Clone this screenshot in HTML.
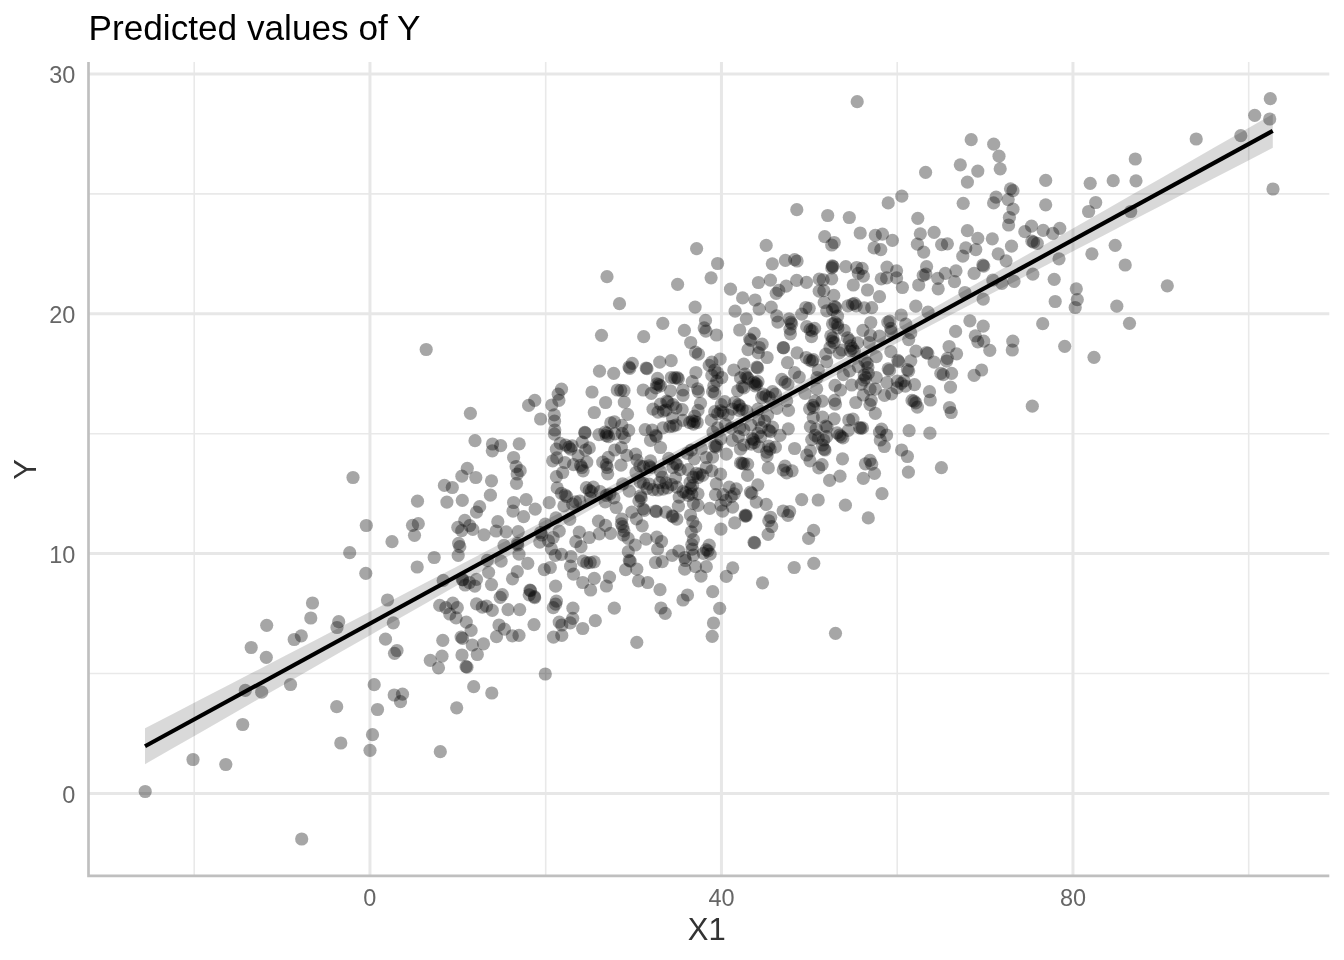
<!DOCTYPE html>
<html><head><meta charset="utf-8"><title>Predicted values of Y</title>
<style>html,body{margin:0;padding:0;background:#fff}svg{display:block;will-change:transform}text{font-family:"Liberation Sans",sans-serif}</style></head><body>
<svg width="1344" height="960" viewBox="0 0 1344 960">
<rect width="1344" height="960" fill="#fff"/>
<g stroke="#e9e9e9" stroke-width="1.6" fill="none">
<path d="M194.20 62.0V875.8"/>
<path d="M545.70 62.0V875.8"/>
<path d="M897.20 62.0V875.8"/>
<path d="M1248.70 62.0V875.8"/>
<path d="M88.5 673.54H1329.3"/>
<path d="M88.5 433.71H1329.3"/>
<path d="M88.5 193.88H1329.3"/>
</g>
<g stroke="#e7e7e7" stroke-width="3" fill="none">
<path d="M369.95 62.0V875.8"/>
<path d="M721.45 62.0V875.8"/>
<path d="M1072.95 62.0V875.8"/>
<path d="M88.5 793.45H1329.3"/>
<path d="M88.5 553.62H1329.3"/>
<path d="M88.5 313.79H1329.3"/>
<path d="M88.5 73.96H1329.3"/>
</g>
<g fill="#000" fill-opacity="0.35">
<circle cx="145.2" cy="791.5" r="6.6"/>
<circle cx="193" cy="759.5" r="6.6"/>
<circle cx="225.8" cy="764.5" r="6.6"/>
<circle cx="242.7" cy="724.5" r="6.6"/>
<circle cx="301.7" cy="839" r="6.6"/>
<circle cx="365.8" cy="573.3" r="6.6"/>
<circle cx="417.2" cy="567" r="6.6"/>
<circle cx="312.5" cy="603" r="6.6"/>
<circle cx="387.5" cy="600" r="6.6"/>
<circle cx="310.8" cy="618" r="6.6"/>
<circle cx="338.7" cy="621.7" r="6.6"/>
<circle cx="337" cy="627.5" r="6.6"/>
<circle cx="266.7" cy="625.3" r="6.6"/>
<circle cx="393.3" cy="622.8" r="6.6"/>
<circle cx="301.3" cy="635.8" r="6.6"/>
<circle cx="294.2" cy="639.5" r="6.6"/>
<circle cx="385.5" cy="639.2" r="6.6"/>
<circle cx="251.2" cy="647.5" r="6.6"/>
<circle cx="397" cy="650.5" r="6.6"/>
<circle cx="394.5" cy="653.3" r="6.6"/>
<circle cx="266.3" cy="657.3" r="6.6"/>
<circle cx="290.5" cy="684.5" r="6.6"/>
<circle cx="374.2" cy="684.7" r="6.6"/>
<circle cx="245.3" cy="690.3" r="6.6"/>
<circle cx="261.7" cy="692.2" r="6.6"/>
<circle cx="394.2" cy="695" r="6.6"/>
<circle cx="402.5" cy="694.2" r="6.6"/>
<circle cx="400.5" cy="701.7" r="6.6"/>
<circle cx="336.7" cy="706.7" r="6.6"/>
<circle cx="377.5" cy="709.5" r="6.6"/>
<circle cx="340.8" cy="743" r="6.6"/>
<circle cx="372.5" cy="734.7" r="6.6"/>
<circle cx="370" cy="750.3" r="6.6"/>
<circle cx="440.3" cy="751.7" r="6.6"/>
<circle cx="442.8" cy="640.3" r="6.6"/>
<circle cx="472.3" cy="645" r="6.6"/>
<circle cx="483.5" cy="643.8" r="6.6"/>
<circle cx="636.8" cy="642.3" r="6.6"/>
<circle cx="442" cy="656.2" r="6.6"/>
<circle cx="430.3" cy="660.3" r="6.6"/>
<circle cx="438.5" cy="667.8" r="6.6"/>
<circle cx="462" cy="655" r="6.6"/>
<circle cx="477.3" cy="654.5" r="6.6"/>
<circle cx="466" cy="666.7" r="6.6"/>
<circle cx="467" cy="667.2" r="6.6"/>
<circle cx="545.3" cy="674" r="6.6"/>
<circle cx="473.7" cy="686.7" r="6.6"/>
<circle cx="491.8" cy="693" r="6.6"/>
<circle cx="456.7" cy="707.8" r="6.6"/>
<circle cx="443.2" cy="580.4" r="6.6"/>
<circle cx="501.1" cy="561.2" r="6.6"/>
<circle cx="487.3" cy="560.4" r="6.6"/>
<circle cx="527.8" cy="563.3" r="6.6"/>
<circle cx="488.6" cy="572.3" r="6.6"/>
<circle cx="517.3" cy="571.7" r="6.6"/>
<circle cx="512.5" cy="578.8" r="6.6"/>
<circle cx="462.3" cy="579.6" r="6.6"/>
<circle cx="476.5" cy="579.3" r="6.6"/>
<circle cx="465.2" cy="585" r="6.6"/>
<circle cx="474.8" cy="586.1" r="6.6"/>
<circle cx="469.4" cy="582.5" r="6.6"/>
<circle cx="491.5" cy="584.6" r="6.6"/>
<circle cx="502.3" cy="594.6" r="6.6"/>
<circle cx="500.2" cy="597.3" r="6.6"/>
<circle cx="530" cy="590.2" r="6.6"/>
<circle cx="529.2" cy="594.8" r="6.6"/>
<circle cx="534.4" cy="596.7" r="6.6"/>
<circle cx="439.7" cy="605.4" r="6.6"/>
<circle cx="452.8" cy="603.2" r="6.6"/>
<circle cx="445.8" cy="607.7" r="6.6"/>
<circle cx="457.3" cy="607.7" r="6.6"/>
<circle cx="449.8" cy="614" r="6.6"/>
<circle cx="456.1" cy="617.9" r="6.6"/>
<circle cx="476.5" cy="603.8" r="6.6"/>
<circle cx="482.3" cy="607.1" r="6.6"/>
<circle cx="486.5" cy="606.2" r="6.6"/>
<circle cx="492.3" cy="610.4" r="6.6"/>
<circle cx="508" cy="609.6" r="6.6"/>
<circle cx="519.7" cy="609.6" r="6.6"/>
<circle cx="466.3" cy="622.1" r="6.6"/>
<circle cx="471.1" cy="630.4" r="6.6"/>
<circle cx="499" cy="625" r="6.6"/>
<circle cx="504.4" cy="629.2" r="6.6"/>
<circle cx="534" cy="624.6" r="6.6"/>
<circle cx="461.1" cy="637.1" r="6.6"/>
<circle cx="462.5" cy="638.3" r="6.6"/>
<circle cx="496.5" cy="636.7" r="6.6"/>
<circle cx="512.3" cy="635.8" r="6.6"/>
<circle cx="519" cy="635.4" r="6.6"/>
<circle cx="463" cy="579.8" r="6.6"/>
<circle cx="530.5" cy="590.7" r="6.6"/>
<circle cx="534.7" cy="597.7" r="6.6"/>
<circle cx="544.3" cy="569.6" r="6.6"/>
<circle cx="550.3" cy="567.5" r="6.6"/>
<circle cx="570.6" cy="566.2" r="6.6"/>
<circle cx="573.5" cy="574.2" r="6.6"/>
<circle cx="583.3" cy="561.2" r="6.6"/>
<circle cx="586.8" cy="562.9" r="6.6"/>
<circle cx="590.2" cy="562.5" r="6.6"/>
<circle cx="594.2" cy="561.8" r="6.6"/>
<circle cx="629.3" cy="560.4" r="6.6"/>
<circle cx="630.2" cy="561.2" r="6.6"/>
<circle cx="625.6" cy="569.6" r="6.6"/>
<circle cx="636.8" cy="569.2" r="6.6"/>
<circle cx="638.5" cy="580.8" r="6.6"/>
<circle cx="647.7" cy="582.5" r="6.6"/>
<circle cx="555.6" cy="586.2" r="6.6"/>
<circle cx="582.7" cy="582.5" r="6.6"/>
<circle cx="594.3" cy="578.3" r="6.6"/>
<circle cx="590.6" cy="590" r="6.6"/>
<circle cx="609.5" cy="577.1" r="6.6"/>
<circle cx="606.4" cy="586" r="6.6"/>
<circle cx="556.4" cy="601.2" r="6.6"/>
<circle cx="555.6" cy="604.2" r="6.6"/>
<circle cx="553.3" cy="607.7" r="6.6"/>
<circle cx="572.9" cy="608.2" r="6.6"/>
<circle cx="614.3" cy="608.2" r="6.6"/>
<circle cx="572.7" cy="618.3" r="6.6"/>
<circle cx="570.2" cy="622.9" r="6.6"/>
<circle cx="559.2" cy="622.1" r="6.6"/>
<circle cx="561.8" cy="625" r="6.6"/>
<circle cx="595.3" cy="620.7" r="6.6"/>
<circle cx="582.7" cy="628.5" r="6.6"/>
<circle cx="553.5" cy="637.1" r="6.6"/>
<circle cx="561.8" cy="635.4" r="6.6"/>
<circle cx="444.4" cy="485.4" r="6.6"/>
<circle cx="452.3" cy="487.5" r="6.6"/>
<circle cx="491.5" cy="480.8" r="6.6"/>
<circle cx="516.5" cy="483.3" r="6.6"/>
<circle cx="446.9" cy="502.1" r="6.6"/>
<circle cx="462.3" cy="500.4" r="6.6"/>
<circle cx="490.4" cy="495.2" r="6.6"/>
<circle cx="513.6" cy="502.5" r="6.6"/>
<circle cx="526.1" cy="499.6" r="6.6"/>
<circle cx="535.2" cy="509.2" r="6.6"/>
<circle cx="479.6" cy="506.7" r="6.6"/>
<circle cx="476.5" cy="512.1" r="6.6"/>
<circle cx="513" cy="511.2" r="6.6"/>
<circle cx="523.6" cy="516.7" r="6.6"/>
<circle cx="464.8" cy="520.4" r="6.6"/>
<circle cx="457.8" cy="527.3" r="6.6"/>
<circle cx="461.7" cy="530.7" r="6.6"/>
<circle cx="469.7" cy="525.7" r="6.6"/>
<circle cx="472.8" cy="529.3" r="6.6"/>
<circle cx="497.8" cy="521.7" r="6.6"/>
<circle cx="496.1" cy="531" r="6.6"/>
<circle cx="506.1" cy="531.8" r="6.6"/>
<circle cx="484" cy="534.8" r="6.6"/>
<circle cx="518.2" cy="531.7" r="6.6"/>
<circle cx="458.6" cy="543.3" r="6.6"/>
<circle cx="459.8" cy="546.7" r="6.6"/>
<circle cx="504" cy="545.4" r="6.6"/>
<circle cx="517.3" cy="543.3" r="6.6"/>
<circle cx="517.8" cy="545" r="6.6"/>
<circle cx="434.2" cy="557.5" r="6.6"/>
<circle cx="458.2" cy="555.4" r="6.6"/>
<circle cx="519" cy="554.2" r="6.6"/>
<circle cx="557.2" cy="487.9" r="6.6"/>
<circle cx="549.2" cy="502.7" r="6.6"/>
<circle cx="561.4" cy="493.3" r="6.6"/>
<circle cx="565.2" cy="495" r="6.6"/>
<circle cx="566.7" cy="496.5" r="6.6"/>
<circle cx="563.9" cy="505.8" r="6.6"/>
<circle cx="572.7" cy="504.2" r="6.6"/>
<circle cx="575.6" cy="501.8" r="6.6"/>
<circle cx="579.8" cy="501" r="6.6"/>
<circle cx="586.4" cy="487.7" r="6.6"/>
<circle cx="593.3" cy="487.1" r="6.6"/>
<circle cx="589.3" cy="490.4" r="6.6"/>
<circle cx="591.4" cy="491.7" r="6.6"/>
<circle cx="590.2" cy="497.9" r="6.6"/>
<circle cx="600.2" cy="491.7" r="6.6"/>
<circle cx="606.4" cy="495.4" r="6.6"/>
<circle cx="609.8" cy="494.2" r="6.6"/>
<circle cx="613.9" cy="497.9" r="6.6"/>
<circle cx="605.2" cy="501.8" r="6.6"/>
<circle cx="616.2" cy="507.5" r="6.6"/>
<circle cx="622.7" cy="483.8" r="6.6"/>
<circle cx="629.3" cy="491.2" r="6.6"/>
<circle cx="640.2" cy="482.1" r="6.6"/>
<circle cx="643.5" cy="483.3" r="6.6"/>
<circle cx="647.2" cy="488.3" r="6.6"/>
<circle cx="640.6" cy="495.8" r="6.6"/>
<circle cx="641.2" cy="497.9" r="6.6"/>
<circle cx="638.9" cy="500.8" r="6.6"/>
<circle cx="643.1" cy="508.8" r="6.6"/>
<circle cx="644.3" cy="510.4" r="6.6"/>
<circle cx="631.8" cy="512.1" r="6.6"/>
<circle cx="636.4" cy="518.8" r="6.6"/>
<circle cx="642.2" cy="525.8" r="6.6"/>
<circle cx="646" cy="539.2" r="6.6"/>
<circle cx="621.8" cy="519.2" r="6.6"/>
<circle cx="621.4" cy="523.8" r="6.6"/>
<circle cx="622.7" cy="526.7" r="6.6"/>
<circle cx="623.9" cy="530.8" r="6.6"/>
<circle cx="623.5" cy="535" r="6.6"/>
<circle cx="628.1" cy="538.3" r="6.6"/>
<circle cx="635.2" cy="545" r="6.6"/>
<circle cx="628.3" cy="551.7" r="6.6"/>
<circle cx="598.5" cy="521.2" r="6.6"/>
<circle cx="605.6" cy="525.4" r="6.6"/>
<circle cx="599.3" cy="533.8" r="6.6"/>
<circle cx="610.6" cy="533.3" r="6.6"/>
<circle cx="579.3" cy="532.1" r="6.6"/>
<circle cx="589.3" cy="537.5" r="6.6"/>
<circle cx="575.8" cy="541.7" r="6.6"/>
<circle cx="581" cy="546.7" r="6.6"/>
<circle cx="556" cy="517.9" r="6.6"/>
<circle cx="569.8" cy="519.3" r="6.6"/>
<circle cx="545.2" cy="524.2" r="6.6"/>
<circle cx="559.2" cy="531.2" r="6.6"/>
<circle cx="553.1" cy="537.5" r="6.6"/>
<circle cx="540.6" cy="532.5" r="6.6"/>
<circle cx="541.8" cy="535" r="6.6"/>
<circle cx="539.8" cy="542.1" r="6.6"/>
<circle cx="548.5" cy="540.8" r="6.6"/>
<circle cx="551.4" cy="548.8" r="6.6"/>
<circle cx="555.2" cy="555.4" r="6.6"/>
<circle cx="561.4" cy="554.3" r="6.6"/>
<circle cx="571" cy="556.7" r="6.6"/>
<circle cx="353" cy="477.5" r="6.6"/>
<circle cx="417.5" cy="501.2" r="6.6"/>
<circle cx="366.3" cy="525.5" r="6.6"/>
<circle cx="412.5" cy="525.3" r="6.6"/>
<circle cx="418.3" cy="523.7" r="6.6"/>
<circle cx="414.5" cy="535.3" r="6.6"/>
<circle cx="392" cy="541.7" r="6.6"/>
<circle cx="349.7" cy="552.7" r="6.6"/>
<circle cx="426.2" cy="349.5" r="6.6"/>
<circle cx="470.4" cy="413.3" r="6.6"/>
<circle cx="528.6" cy="405.4" r="6.6"/>
<circle cx="475" cy="440.7" r="6.6"/>
<circle cx="492.5" cy="444" r="6.6"/>
<circle cx="500.7" cy="445.7" r="6.6"/>
<circle cx="492.3" cy="450.8" r="6.6"/>
<circle cx="519.2" cy="443.8" r="6.6"/>
<circle cx="513.6" cy="457.5" r="6.6"/>
<circle cx="516.1" cy="466.5" r="6.6"/>
<circle cx="520.2" cy="470.7" r="6.6"/>
<circle cx="517.2" cy="474" r="6.6"/>
<circle cx="467.3" cy="468.3" r="6.6"/>
<circle cx="461.9" cy="476.2" r="6.6"/>
<circle cx="475.8" cy="477.5" r="6.6"/>
<circle cx="534.8" cy="400.4" r="6.6"/>
<circle cx="540.6" cy="419" r="6.6"/>
<circle cx="551.8" cy="405" r="6.6"/>
<circle cx="558.9" cy="400.4" r="6.6"/>
<circle cx="554.3" cy="414.8" r="6.6"/>
<circle cx="554.5" cy="421.2" r="6.6"/>
<circle cx="554.8" cy="430" r="6.6"/>
<circle cx="554.5" cy="434.2" r="6.6"/>
<circle cx="594.3" cy="412.5" r="6.6"/>
<circle cx="605.6" cy="402.5" r="6.6"/>
<circle cx="624.3" cy="402.1" r="6.6"/>
<circle cx="627.5" cy="414.3" r="6.6"/>
<circle cx="584.8" cy="432.3" r="6.6"/>
<circle cx="585" cy="432.9" r="6.6"/>
<circle cx="598.9" cy="434.6" r="6.6"/>
<circle cx="605" cy="432.1" r="6.6"/>
<circle cx="607" cy="433.2" r="6.6"/>
<circle cx="606.2" cy="435.7" r="6.6"/>
<circle cx="608.5" cy="436.7" r="6.6"/>
<circle cx="610.8" cy="422.9" r="6.6"/>
<circle cx="614.5" cy="421.8" r="6.6"/>
<circle cx="621.8" cy="425.4" r="6.6"/>
<circle cx="628.7" cy="430.4" r="6.6"/>
<circle cx="622.2" cy="433.3" r="6.6"/>
<circle cx="624.5" cy="437.7" r="6.6"/>
<circle cx="614.8" cy="433.8" r="6.6"/>
<circle cx="645.2" cy="429.6" r="6.6"/>
<circle cx="560.2" cy="443.3" r="6.6"/>
<circle cx="556.4" cy="449.2" r="6.6"/>
<circle cx="565.6" cy="445" r="6.6"/>
<circle cx="568.9" cy="447.1" r="6.6"/>
<circle cx="570.6" cy="449.2" r="6.6"/>
<circle cx="572.2" cy="445.8" r="6.6"/>
<circle cx="556.8" cy="457.9" r="6.6"/>
<circle cx="552.7" cy="460.8" r="6.6"/>
<circle cx="564.8" cy="462.5" r="6.6"/>
<circle cx="582.2" cy="442.1" r="6.6"/>
<circle cx="589.3" cy="447.9" r="6.6"/>
<circle cx="585.6" cy="450" r="6.6"/>
<circle cx="578.1" cy="455.8" r="6.6"/>
<circle cx="586.8" cy="462.1" r="6.6"/>
<circle cx="580.6" cy="465.4" r="6.6"/>
<circle cx="581.8" cy="467.5" r="6.6"/>
<circle cx="583.1" cy="470.8" r="6.6"/>
<circle cx="573.5" cy="464.6" r="6.6"/>
<circle cx="562.7" cy="472.5" r="6.6"/>
<circle cx="556.4" cy="476.7" r="6.6"/>
<circle cx="621.4" cy="447.5" r="6.6"/>
<circle cx="614.8" cy="450" r="6.6"/>
<circle cx="626.8" cy="455.4" r="6.6"/>
<circle cx="635.6" cy="454.2" r="6.6"/>
<circle cx="637" cy="460.2" r="6.6"/>
<circle cx="608.3" cy="457.3" r="6.6"/>
<circle cx="602.7" cy="462.1" r="6.6"/>
<circle cx="606.4" cy="464.6" r="6.6"/>
<circle cx="607.2" cy="467.5" r="6.6"/>
<circle cx="607.7" cy="473.8" r="6.6"/>
<circle cx="621" cy="465.2" r="6.6"/>
<circle cx="639.8" cy="465.8" r="6.6"/>
<circle cx="643.5" cy="466.7" r="6.6"/>
<circle cx="636" cy="472.5" r="6.6"/>
<circle cx="607" cy="276.7" r="6.6"/>
<circle cx="619.5" cy="303.7" r="6.6"/>
<circle cx="601.5" cy="335.3" r="6.6"/>
<circle cx="643.7" cy="336.7" r="6.6"/>
<circle cx="632.3" cy="363.3" r="6.6"/>
<circle cx="629" cy="367" r="6.6"/>
<circle cx="629.8" cy="368.3" r="6.6"/>
<circle cx="646.2" cy="368" r="6.6"/>
<circle cx="647" cy="368.7" r="6.6"/>
<circle cx="599.5" cy="371.2" r="6.6"/>
<circle cx="613.7" cy="373.3" r="6.6"/>
<circle cx="592" cy="392" r="6.6"/>
<circle cx="617.3" cy="390" r="6.6"/>
<circle cx="620.7" cy="390.3" r="6.6"/>
<circle cx="624" cy="390.5" r="6.6"/>
<circle cx="643.2" cy="390" r="6.6"/>
<circle cx="561.5" cy="389.2" r="6.6"/>
<circle cx="558.2" cy="394.2" r="6.6"/>
<circle cx="655.5" cy="562.5" r="6.6"/>
<circle cx="662.2" cy="561.7" r="6.6"/>
<circle cx="685.5" cy="560.5" r="6.6"/>
<circle cx="684.7" cy="569.2" r="6.6"/>
<circle cx="695.5" cy="566.7" r="6.6"/>
<circle cx="706.3" cy="566.7" r="6.6"/>
<circle cx="701" cy="576.2" r="6.6"/>
<circle cx="732.7" cy="567.8" r="6.6"/>
<circle cx="726.3" cy="576.3" r="6.6"/>
<circle cx="794.2" cy="567.5" r="6.6"/>
<circle cx="813.8" cy="563.3" r="6.6"/>
<circle cx="762.5" cy="582.8" r="6.6"/>
<circle cx="660" cy="589.7" r="6.6"/>
<circle cx="687.5" cy="595" r="6.6"/>
<circle cx="683" cy="600" r="6.6"/>
<circle cx="712.7" cy="591.7" r="6.6"/>
<circle cx="719.7" cy="608.3" r="6.6"/>
<circle cx="661" cy="608" r="6.6"/>
<circle cx="665.2" cy="613.3" r="6.6"/>
<circle cx="713.5" cy="623" r="6.6"/>
<circle cx="712.2" cy="636.3" r="6.6"/>
<circle cx="835.5" cy="633.3" r="6.6"/>
<circle cx="649.2" cy="484.2" r="6.6"/>
<circle cx="653" cy="489.6" r="6.6"/>
<circle cx="658" cy="490" r="6.6"/>
<circle cx="663" cy="489.2" r="6.6"/>
<circle cx="667.6" cy="487.9" r="6.6"/>
<circle cx="665.9" cy="482.9" r="6.6"/>
<circle cx="671.8" cy="484.6" r="6.6"/>
<circle cx="659.7" cy="482.5" r="6.6"/>
<circle cx="676.8" cy="487.1" r="6.6"/>
<circle cx="690.1" cy="482.5" r="6.6"/>
<circle cx="692.6" cy="485.4" r="6.6"/>
<circle cx="690.9" cy="488.3" r="6.6"/>
<circle cx="685.9" cy="492.5" r="6.6"/>
<circle cx="688.4" cy="495.4" r="6.6"/>
<circle cx="683" cy="491.7" r="6.6"/>
<circle cx="691.8" cy="494.2" r="6.6"/>
<circle cx="679.2" cy="497.1" r="6.6"/>
<circle cx="678.4" cy="506.2" r="6.6"/>
<circle cx="698" cy="493.8" r="6.6"/>
<circle cx="698" cy="505.4" r="6.6"/>
<circle cx="693.4" cy="503.3" r="6.6"/>
<circle cx="709.7" cy="508.3" r="6.6"/>
<circle cx="716.3" cy="483.8" r="6.6"/>
<circle cx="715.5" cy="494.6" r="6.6"/>
<circle cx="723" cy="494.6" r="6.6"/>
<circle cx="729.2" cy="487.1" r="6.6"/>
<circle cx="736.3" cy="488.8" r="6.6"/>
<circle cx="734.2" cy="493.8" r="6.6"/>
<circle cx="731.3" cy="496.7" r="6.6"/>
<circle cx="725.9" cy="500.4" r="6.6"/>
<circle cx="732.6" cy="507.1" r="6.6"/>
<circle cx="722.6" cy="511.2" r="6.6"/>
<circle cx="720.9" cy="505" r="6.6"/>
<circle cx="750.5" cy="492.1" r="6.6"/>
<circle cx="751.8" cy="493.3" r="6.6"/>
<circle cx="756.3" cy="502.1" r="6.6"/>
<circle cx="757.8" cy="484.8" r="6.6"/>
<circle cx="745.5" cy="515" r="6.6"/>
<circle cx="746.3" cy="515.8" r="6.6"/>
<circle cx="745.1" cy="516.2" r="6.6"/>
<circle cx="734.7" cy="522.9" r="6.6"/>
<circle cx="720.9" cy="529.2" r="6.6"/>
<circle cx="754" cy="542.3" r="6.6"/>
<circle cx="754.7" cy="542.9" r="6.6"/>
<circle cx="655.7" cy="511" r="6.6"/>
<circle cx="656.3" cy="511.7" r="6.6"/>
<circle cx="665.9" cy="512.1" r="6.6"/>
<circle cx="672.2" cy="515.8" r="6.6"/>
<circle cx="673" cy="516.7" r="6.6"/>
<circle cx="676.8" cy="519.2" r="6.6"/>
<circle cx="690.5" cy="515" r="6.6"/>
<circle cx="692.8" cy="521.7" r="6.6"/>
<circle cx="695.7" cy="526.5" r="6.6"/>
<circle cx="691.3" cy="531.8" r="6.6"/>
<circle cx="693.4" cy="539.6" r="6.6"/>
<circle cx="691.8" cy="544.6" r="6.6"/>
<circle cx="692.2" cy="549.2" r="6.6"/>
<circle cx="709.2" cy="545.2" r="6.6"/>
<circle cx="706.3" cy="549.6" r="6.6"/>
<circle cx="708" cy="550.8" r="6.6"/>
<circle cx="703.4" cy="553.3" r="6.6"/>
<circle cx="710.1" cy="554.2" r="6.6"/>
<circle cx="656.8" cy="537.1" r="6.6"/>
<circle cx="661.5" cy="541.5" r="6.6"/>
<circle cx="657.6" cy="549" r="6.6"/>
<circle cx="678.8" cy="551" r="6.6"/>
<circle cx="672.2" cy="555.4" r="6.6"/>
<circle cx="684.7" cy="557.5" r="6.6"/>
<circle cx="693.4" cy="555" r="6.6"/>
<circle cx="766.2" cy="504.3" r="6.6"/>
<circle cx="829.6" cy="480.4" r="6.6"/>
<circle cx="801.7" cy="499.6" r="6.6"/>
<circle cx="818.2" cy="500" r="6.6"/>
<circle cx="845.4" cy="505.2" r="6.6"/>
<circle cx="868.3" cy="517.9" r="6.6"/>
<circle cx="783.2" cy="511" r="6.6"/>
<circle cx="789.6" cy="511.5" r="6.6"/>
<circle cx="787.9" cy="515.4" r="6.6"/>
<circle cx="770.7" cy="517.3" r="6.6"/>
<circle cx="768.8" cy="520.8" r="6.6"/>
<circle cx="771.7" cy="526.5" r="6.6"/>
<circle cx="768.1" cy="534.3" r="6.6"/>
<circle cx="813.6" cy="530.4" r="6.6"/>
<circle cx="808.6" cy="538.3" r="6.6"/>
<circle cx="653" cy="409.2" r="6.6"/>
<circle cx="658" cy="412.1" r="6.6"/>
<circle cx="663.4" cy="411.2" r="6.6"/>
<circle cx="665.9" cy="410" r="6.6"/>
<circle cx="666.8" cy="401.2" r="6.6"/>
<circle cx="668" cy="402.1" r="6.6"/>
<circle cx="673" cy="404.6" r="6.6"/>
<circle cx="675.9" cy="407.9" r="6.6"/>
<circle cx="682.2" cy="409.6" r="6.6"/>
<circle cx="660.5" cy="404.2" r="6.6"/>
<circle cx="663" cy="427.9" r="6.6"/>
<circle cx="669.7" cy="426.7" r="6.6"/>
<circle cx="673" cy="426.2" r="6.6"/>
<circle cx="675.9" cy="425" r="6.6"/>
<circle cx="683" cy="420.4" r="6.6"/>
<circle cx="672.6" cy="417.9" r="6.6"/>
<circle cx="655.7" cy="435.4" r="6.6"/>
<circle cx="656.3" cy="436.5" r="6.6"/>
<circle cx="650.5" cy="440.4" r="6.6"/>
<circle cx="660.5" cy="447.5" r="6.6"/>
<circle cx="652.2" cy="430" r="6.6"/>
<circle cx="700.5" cy="403.3" r="6.6"/>
<circle cx="698" cy="410.4" r="6.6"/>
<circle cx="694.7" cy="416.2" r="6.6"/>
<circle cx="692.2" cy="420.8" r="6.6"/>
<circle cx="694.7" cy="421.7" r="6.6"/>
<circle cx="697.2" cy="422.5" r="6.6"/>
<circle cx="693.4" cy="424.2" r="6.6"/>
<circle cx="689.7" cy="422.5" r="6.6"/>
<circle cx="711.3" cy="420" r="6.6"/>
<circle cx="714.7" cy="411.7" r="6.6"/>
<circle cx="717.6" cy="413.8" r="6.6"/>
<circle cx="720.5" cy="410.8" r="6.6"/>
<circle cx="723" cy="412.5" r="6.6"/>
<circle cx="721.3" cy="404.6" r="6.6"/>
<circle cx="724.7" cy="401.7" r="6.6"/>
<circle cx="728" cy="415" r="6.6"/>
<circle cx="734.7" cy="402.5" r="6.6"/>
<circle cx="738.4" cy="404.6" r="6.6"/>
<circle cx="739.7" cy="405.8" r="6.6"/>
<circle cx="739.2" cy="410.4" r="6.6"/>
<circle cx="742.2" cy="409.2" r="6.6"/>
<circle cx="746.8" cy="411.2" r="6.6"/>
<circle cx="732.2" cy="409.2" r="6.6"/>
<circle cx="713" cy="432.1" r="6.6"/>
<circle cx="717.6" cy="427.9" r="6.6"/>
<circle cx="725.5" cy="424.6" r="6.6"/>
<circle cx="731.3" cy="427.9" r="6.6"/>
<circle cx="739.7" cy="427.9" r="6.6"/>
<circle cx="743.8" cy="429.6" r="6.6"/>
<circle cx="750.9" cy="425" r="6.6"/>
<circle cx="758.8" cy="420" r="6.6"/>
<circle cx="758" cy="409.2" r="6.6"/>
<circle cx="720.9" cy="438.8" r="6.6"/>
<circle cx="714.7" cy="446.2" r="6.6"/>
<circle cx="715.9" cy="447.1" r="6.6"/>
<circle cx="716.8" cy="445.4" r="6.6"/>
<circle cx="732.2" cy="440.4" r="6.6"/>
<circle cx="738.4" cy="436.7" r="6.6"/>
<circle cx="740.5" cy="449.2" r="6.6"/>
<circle cx="743.8" cy="445" r="6.6"/>
<circle cx="752.2" cy="438.3" r="6.6"/>
<circle cx="753.4" cy="439.6" r="6.6"/>
<circle cx="751.3" cy="444.2" r="6.6"/>
<circle cx="754.2" cy="442.5" r="6.6"/>
<circle cx="758" cy="433.3" r="6.6"/>
<circle cx="758.8" cy="446.7" r="6.6"/>
<circle cx="726.3" cy="454.2" r="6.6"/>
<circle cx="740.5" cy="462.9" r="6.6"/>
<circle cx="742.2" cy="463.3" r="6.6"/>
<circle cx="743.8" cy="463.8" r="6.6"/>
<circle cx="747.6" cy="464.2" r="6.6"/>
<circle cx="747.6" cy="475.4" r="6.6"/>
<circle cx="701.3" cy="448.3" r="6.6"/>
<circle cx="694.2" cy="458.8" r="6.6"/>
<circle cx="691.3" cy="450" r="6.6"/>
<circle cx="706.3" cy="457.5" r="6.6"/>
<circle cx="712.6" cy="457.1" r="6.6"/>
<circle cx="687.2" cy="453.3" r="6.6"/>
<circle cx="706.3" cy="467.5" r="6.6"/>
<circle cx="711.8" cy="470.8" r="6.6"/>
<circle cx="720.5" cy="474.2" r="6.6"/>
<circle cx="696.3" cy="473.3" r="6.6"/>
<circle cx="699.7" cy="474.2" r="6.6"/>
<circle cx="702.6" cy="475.4" r="6.6"/>
<circle cx="693" cy="477.1" r="6.6"/>
<circle cx="698" cy="477.5" r="6.6"/>
<circle cx="650.5" cy="460.8" r="6.6"/>
<circle cx="649.2" cy="465.8" r="6.6"/>
<circle cx="650.5" cy="467.5" r="6.6"/>
<circle cx="675.5" cy="463.3" r="6.6"/>
<circle cx="677.2" cy="465" r="6.6"/>
<circle cx="673" cy="467.5" r="6.6"/>
<circle cx="680.1" cy="469.6" r="6.6"/>
<circle cx="660.5" cy="471.7" r="6.6"/>
<circle cx="662.2" cy="477.1" r="6.6"/>
<circle cx="688" cy="469.6" r="6.6"/>
<circle cx="675.5" cy="477.9" r="6.6"/>
<circle cx="668.8" cy="458.3" r="6.6"/>
<circle cx="776.7" cy="408.3" r="6.6"/>
<circle cx="788.5" cy="410.4" r="6.6"/>
<circle cx="786.7" cy="400.8" r="6.6"/>
<circle cx="767.5" cy="415.4" r="6.6"/>
<circle cx="764.6" cy="421.2" r="6.6"/>
<circle cx="772.5" cy="427.1" r="6.6"/>
<circle cx="768.8" cy="430.4" r="6.6"/>
<circle cx="770.4" cy="431.7" r="6.6"/>
<circle cx="780" cy="435.4" r="6.6"/>
<circle cx="788.3" cy="428.8" r="6.6"/>
<circle cx="761.2" cy="427.5" r="6.6"/>
<circle cx="760.8" cy="436.7" r="6.6"/>
<circle cx="775.4" cy="447.1" r="6.6"/>
<circle cx="768.8" cy="446.2" r="6.6"/>
<circle cx="770" cy="449.2" r="6.6"/>
<circle cx="766.7" cy="452.1" r="6.6"/>
<circle cx="767.1" cy="455.8" r="6.6"/>
<circle cx="768.3" cy="467.9" r="6.6"/>
<circle cx="794.6" cy="448.5" r="6.6"/>
<circle cx="785" cy="466.2" r="6.6"/>
<circle cx="783.3" cy="470" r="6.6"/>
<circle cx="786.7" cy="472.9" r="6.6"/>
<circle cx="792.1" cy="470.8" r="6.6"/>
<circle cx="809.6" cy="408.8" r="6.6"/>
<circle cx="812.9" cy="405.4" r="6.6"/>
<circle cx="813.8" cy="407.5" r="6.6"/>
<circle cx="815" cy="401.2" r="6.6"/>
<circle cx="822.1" cy="401.2" r="6.6"/>
<circle cx="834.6" cy="400.4" r="6.6"/>
<circle cx="835.4" cy="404.2" r="6.6"/>
<circle cx="855.8" cy="402.5" r="6.6"/>
<circle cx="871.2" cy="400.4" r="6.6"/>
<circle cx="870" cy="404.6" r="6.6"/>
<circle cx="813.3" cy="417.5" r="6.6"/>
<circle cx="822.5" cy="417.1" r="6.6"/>
<circle cx="834.2" cy="418.8" r="6.6"/>
<circle cx="810.4" cy="426.7" r="6.6"/>
<circle cx="816.2" cy="429.2" r="6.6"/>
<circle cx="825.8" cy="426.2" r="6.6"/>
<circle cx="827.1" cy="427.1" r="6.6"/>
<circle cx="815" cy="435.4" r="6.6"/>
<circle cx="811.7" cy="439.6" r="6.6"/>
<circle cx="818.3" cy="437.9" r="6.6"/>
<circle cx="823.8" cy="440" r="6.6"/>
<circle cx="826.7" cy="436.7" r="6.6"/>
<circle cx="822.5" cy="445" r="6.6"/>
<circle cx="824.2" cy="449.2" r="6.6"/>
<circle cx="825" cy="450" r="6.6"/>
<circle cx="839.6" cy="435" r="6.6"/>
<circle cx="841.2" cy="436.7" r="6.6"/>
<circle cx="842.9" cy="437.9" r="6.6"/>
<circle cx="837.1" cy="432.9" r="6.6"/>
<circle cx="848.3" cy="430.4" r="6.6"/>
<circle cx="848.8" cy="420" r="6.6"/>
<circle cx="852.9" cy="419.2" r="6.6"/>
<circle cx="859.6" cy="427.5" r="6.6"/>
<circle cx="860.8" cy="428.3" r="6.6"/>
<circle cx="862.5" cy="427.9" r="6.6"/>
<circle cx="810.4" cy="450.8" r="6.6"/>
<circle cx="806.7" cy="455" r="6.6"/>
<circle cx="810" cy="460.8" r="6.6"/>
<circle cx="822.1" cy="464.6" r="6.6"/>
<circle cx="818.8" cy="467.9" r="6.6"/>
<circle cx="842.5" cy="458.8" r="6.6"/>
<circle cx="865.4" cy="463.8" r="6.6"/>
<circle cx="870" cy="460.4" r="6.6"/>
<circle cx="871.7" cy="464.2" r="6.6"/>
<circle cx="840" cy="476.2" r="6.6"/>
<circle cx="863.3" cy="478.3" r="6.6"/>
<circle cx="662.8" cy="323.3" r="6.6"/>
<circle cx="684.4" cy="330.4" r="6.6"/>
<circle cx="705.5" cy="320.4" r="6.6"/>
<circle cx="704.2" cy="327.9" r="6.6"/>
<circle cx="705.9" cy="331.2" r="6.6"/>
<circle cx="716.5" cy="335" r="6.6"/>
<circle cx="739.7" cy="330" r="6.6"/>
<circle cx="754.2" cy="333.3" r="6.6"/>
<circle cx="749.7" cy="339.2" r="6.6"/>
<circle cx="750.7" cy="340.4" r="6.6"/>
<circle cx="748" cy="349.6" r="6.6"/>
<circle cx="759.2" cy="347.5" r="6.6"/>
<circle cx="758.4" cy="352.9" r="6.6"/>
<circle cx="690.7" cy="342.5" r="6.6"/>
<circle cx="695.5" cy="352.1" r="6.6"/>
<circle cx="698.4" cy="354.2" r="6.6"/>
<circle cx="659.7" cy="362.1" r="6.6"/>
<circle cx="671.2" cy="360.7" r="6.6"/>
<circle cx="720.1" cy="359.2" r="6.6"/>
<circle cx="711.8" cy="362.1" r="6.6"/>
<circle cx="709.2" cy="365.4" r="6.6"/>
<circle cx="714.7" cy="370" r="6.6"/>
<circle cx="717.6" cy="372.9" r="6.6"/>
<circle cx="721.8" cy="377.5" r="6.6"/>
<circle cx="711.8" cy="375.4" r="6.6"/>
<circle cx="716.8" cy="381.2" r="6.6"/>
<circle cx="713.8" cy="385.8" r="6.6"/>
<circle cx="712.6" cy="391.7" r="6.6"/>
<circle cx="714.7" cy="393.3" r="6.6"/>
<circle cx="695.9" cy="372.5" r="6.6"/>
<circle cx="692.2" cy="381.7" r="6.6"/>
<circle cx="697.6" cy="388.8" r="6.6"/>
<circle cx="698.4" cy="391.7" r="6.6"/>
<circle cx="671.3" cy="377.5" r="6.6"/>
<circle cx="674.7" cy="377.9" r="6.6"/>
<circle cx="677.2" cy="377.5" r="6.6"/>
<circle cx="678.4" cy="378.8" r="6.6"/>
<circle cx="657.6" cy="378.3" r="6.6"/>
<circle cx="656.8" cy="383.8" r="6.6"/>
<circle cx="658.8" cy="384.6" r="6.6"/>
<circle cx="660.5" cy="385.8" r="6.6"/>
<circle cx="655.9" cy="387.9" r="6.6"/>
<circle cx="670.5" cy="390.8" r="6.6"/>
<circle cx="683" cy="390" r="6.6"/>
<circle cx="683" cy="395.4" r="6.6"/>
<circle cx="651.3" cy="393.3" r="6.6"/>
<circle cx="743.8" cy="364.2" r="6.6"/>
<circle cx="733.8" cy="370" r="6.6"/>
<circle cx="745.1" cy="374.2" r="6.6"/>
<circle cx="746.8" cy="377.1" r="6.6"/>
<circle cx="748" cy="378.3" r="6.6"/>
<circle cx="740.5" cy="377.9" r="6.6"/>
<circle cx="756.8" cy="367.1" r="6.6"/>
<circle cx="757.6" cy="367.9" r="6.6"/>
<circle cx="753.8" cy="382.1" r="6.6"/>
<circle cx="755.5" cy="383.3" r="6.6"/>
<circle cx="756.8" cy="384.6" r="6.6"/>
<circle cx="755.1" cy="385.8" r="6.6"/>
<circle cx="758" cy="381.7" r="6.6"/>
<circle cx="742.2" cy="386.7" r="6.6"/>
<circle cx="743.8" cy="387.9" r="6.6"/>
<circle cx="737.6" cy="390.8" r="6.6"/>
<circle cx="777.9" cy="322.1" r="6.6"/>
<circle cx="790.8" cy="322.1" r="6.6"/>
<circle cx="791.7" cy="323.8" r="6.6"/>
<circle cx="790" cy="329.2" r="6.6"/>
<circle cx="790.4" cy="333.8" r="6.6"/>
<circle cx="806.7" cy="326.7" r="6.6"/>
<circle cx="810" cy="329.6" r="6.6"/>
<circle cx="812.1" cy="330.8" r="6.6"/>
<circle cx="814.6" cy="328.3" r="6.6"/>
<circle cx="811.5" cy="336.7" r="6.6"/>
<circle cx="762.1" cy="344.2" r="6.6"/>
<circle cx="767.1" cy="357.5" r="6.6"/>
<circle cx="783.2" cy="347.5" r="6.6"/>
<circle cx="783.6" cy="347.9" r="6.6"/>
<circle cx="797.1" cy="352.9" r="6.6"/>
<circle cx="787.5" cy="362.7" r="6.6"/>
<circle cx="794.6" cy="372.7" r="6.6"/>
<circle cx="799.2" cy="377.1" r="6.6"/>
<circle cx="781.8" cy="379.3" r="6.6"/>
<circle cx="785" cy="382.1" r="6.6"/>
<circle cx="787.9" cy="384.2" r="6.6"/>
<circle cx="806.2" cy="357.5" r="6.6"/>
<circle cx="809.6" cy="360" r="6.6"/>
<circle cx="812.1" cy="361.2" r="6.6"/>
<circle cx="813.3" cy="359.6" r="6.6"/>
<circle cx="825.8" cy="354.2" r="6.6"/>
<circle cx="826.7" cy="361.7" r="6.6"/>
<circle cx="818.3" cy="370" r="6.6"/>
<circle cx="817.1" cy="377.5" r="6.6"/>
<circle cx="832.5" cy="323.8" r="6.6"/>
<circle cx="835" cy="322.5" r="6.6"/>
<circle cx="837.5" cy="324.6" r="6.6"/>
<circle cx="837.9" cy="327.9" r="6.6"/>
<circle cx="830.8" cy="335.8" r="6.6"/>
<circle cx="832.9" cy="337.9" r="6.6"/>
<circle cx="832.1" cy="341.2" r="6.6"/>
<circle cx="834.2" cy="342.5" r="6.6"/>
<circle cx="844.2" cy="330.4" r="6.6"/>
<circle cx="847.5" cy="337.9" r="6.6"/>
<circle cx="849.6" cy="340.4" r="6.6"/>
<circle cx="850.8" cy="345.8" r="6.6"/>
<circle cx="852.5" cy="348.3" r="6.6"/>
<circle cx="850.4" cy="350.8" r="6.6"/>
<circle cx="854.2" cy="351.2" r="6.6"/>
<circle cx="839.2" cy="352.9" r="6.6"/>
<circle cx="842.1" cy="350" r="6.6"/>
<circle cx="857.5" cy="342.9" r="6.6"/>
<circle cx="862.9" cy="330.4" r="6.6"/>
<circle cx="870.8" cy="322.5" r="6.6"/>
<circle cx="870.4" cy="335.4" r="6.6"/>
<circle cx="869.2" cy="342.5" r="6.6"/>
<circle cx="830" cy="347.5" r="6.6"/>
<circle cx="849.6" cy="370.8" r="6.6"/>
<circle cx="843.3" cy="374.6" r="6.6"/>
<circle cx="851.7" cy="385" r="6.6"/>
<circle cx="835" cy="385.4" r="6.6"/>
<circle cx="840.4" cy="390" r="6.6"/>
<circle cx="865" cy="361.2" r="6.6"/>
<circle cx="867.1" cy="363.3" r="6.6"/>
<circle cx="867.9" cy="367.5" r="6.6"/>
<circle cx="864.2" cy="375" r="6.6"/>
<circle cx="865.8" cy="377.5" r="6.6"/>
<circle cx="863.8" cy="380" r="6.6"/>
<circle cx="868.3" cy="373.3" r="6.6"/>
<circle cx="861.2" cy="384.2" r="6.6"/>
<circle cx="863.3" cy="395" r="6.6"/>
<circle cx="870" cy="389.2" r="6.6"/>
<circle cx="858.3" cy="366.7" r="6.6"/>
<circle cx="816.7" cy="388.8" r="6.6"/>
<circle cx="805" cy="393.3" r="6.6"/>
<circle cx="763.3" cy="394.2" r="6.6"/>
<circle cx="765.8" cy="395.8" r="6.6"/>
<circle cx="769.2" cy="397.5" r="6.6"/>
<circle cx="772.5" cy="391.7" r="6.6"/>
<circle cx="775.4" cy="394.2" r="6.6"/>
<circle cx="761.7" cy="397.5" r="6.6"/>
<circle cx="696.6" cy="248.6" r="6.6"/>
<circle cx="717.6" cy="263.5" r="6.6"/>
<circle cx="711.1" cy="277.8" r="6.6"/>
<circle cx="677.6" cy="284.3" r="6.6"/>
<circle cx="730.5" cy="289.2" r="6.6"/>
<circle cx="742.6" cy="297.9" r="6.6"/>
<circle cx="755.1" cy="300" r="6.6"/>
<circle cx="758.4" cy="282.5" r="6.6"/>
<circle cx="695.1" cy="307.1" r="6.6"/>
<circle cx="735.1" cy="311.2" r="6.6"/>
<circle cx="759.2" cy="309.2" r="6.6"/>
<circle cx="746.3" cy="318.8" r="6.6"/>
<circle cx="766.2" cy="245.4" r="6.6"/>
<circle cx="772.3" cy="263.8" r="6.6"/>
<circle cx="785.4" cy="260.4" r="6.6"/>
<circle cx="794.6" cy="259.6" r="6.6"/>
<circle cx="797.1" cy="261" r="6.6"/>
<circle cx="831.7" cy="245" r="6.6"/>
<circle cx="834.2" cy="242.5" r="6.6"/>
<circle cx="832.3" cy="265.8" r="6.6"/>
<circle cx="832.9" cy="266.5" r="6.6"/>
<circle cx="831.8" cy="267.9" r="6.6"/>
<circle cx="845.8" cy="266.7" r="6.6"/>
<circle cx="856.7" cy="267.5" r="6.6"/>
<circle cx="862.1" cy="268.3" r="6.6"/>
<circle cx="858.3" cy="273.3" r="6.6"/>
<circle cx="863.3" cy="276.2" r="6.6"/>
<circle cx="770.4" cy="280.2" r="6.6"/>
<circle cx="796.7" cy="280.4" r="6.6"/>
<circle cx="806.5" cy="282.3" r="6.6"/>
<circle cx="786.2" cy="286.2" r="6.6"/>
<circle cx="778.8" cy="290.4" r="6.6"/>
<circle cx="776.2" cy="293.3" r="6.6"/>
<circle cx="819.3" cy="279.2" r="6.6"/>
<circle cx="823.2" cy="279.8" r="6.6"/>
<circle cx="831.7" cy="278.8" r="6.6"/>
<circle cx="819.2" cy="291.2" r="6.6"/>
<circle cx="823.8" cy="290.7" r="6.6"/>
<circle cx="833.8" cy="295.4" r="6.6"/>
<circle cx="853.3" cy="285" r="6.6"/>
<circle cx="867.5" cy="290" r="6.6"/>
<circle cx="771.2" cy="307.1" r="6.6"/>
<circle cx="805.8" cy="307.5" r="6.6"/>
<circle cx="809.2" cy="308.3" r="6.6"/>
<circle cx="801.7" cy="314.2" r="6.6"/>
<circle cx="824.2" cy="302.5" r="6.6"/>
<circle cx="826.7" cy="310.8" r="6.6"/>
<circle cx="834.6" cy="306.7" r="6.6"/>
<circle cx="835.8" cy="307.5" r="6.6"/>
<circle cx="832.5" cy="309.6" r="6.6"/>
<circle cx="837.5" cy="316.2" r="6.6"/>
<circle cx="847.9" cy="305.8" r="6.6"/>
<circle cx="852.5" cy="304.2" r="6.6"/>
<circle cx="854.6" cy="303.3" r="6.6"/>
<circle cx="856.2" cy="305.8" r="6.6"/>
<circle cx="864.2" cy="307.9" r="6.6"/>
<circle cx="871.7" cy="307.7" r="6.6"/>
<circle cx="776.7" cy="315.8" r="6.6"/>
<circle cx="789.2" cy="318.8" r="6.6"/>
<circle cx="857.2" cy="101.7" r="6.6"/>
<circle cx="796.8" cy="209.7" r="6.6"/>
<circle cx="827.7" cy="215.5" r="6.6"/>
<circle cx="849.3" cy="217.5" r="6.6"/>
<circle cx="860.2" cy="233" r="6.6"/>
<circle cx="824.7" cy="236.7" r="6.6"/>
<circle cx="882" cy="493.7" r="6.6"/>
<circle cx="875.3" cy="413.3" r="6.6"/>
<circle cx="881.6" cy="429.2" r="6.6"/>
<circle cx="879.5" cy="432.1" r="6.6"/>
<circle cx="886.6" cy="435" r="6.6"/>
<circle cx="880.3" cy="440" r="6.6"/>
<circle cx="884.3" cy="446.5" r="6.6"/>
<circle cx="909.1" cy="430.7" r="6.6"/>
<circle cx="929.9" cy="433.2" r="6.6"/>
<circle cx="901.6" cy="450" r="6.6"/>
<circle cx="907.4" cy="456.5" r="6.6"/>
<circle cx="908.4" cy="472.1" r="6.6"/>
<circle cx="941.4" cy="467.7" r="6.6"/>
<circle cx="949.5" cy="407.5" r="6.6"/>
<circle cx="951.2" cy="412.5" r="6.6"/>
<circle cx="917.4" cy="407.1" r="6.6"/>
<circle cx="915.8" cy="402.9" r="6.6"/>
<circle cx="914.1" cy="401.2" r="6.6"/>
<circle cx="912" cy="400.4" r="6.6"/>
<circle cx="930.3" cy="400" r="6.6"/>
<circle cx="874.5" cy="473.3" r="6.6"/>
<circle cx="887.8" cy="322.1" r="6.6"/>
<circle cx="889.9" cy="321.2" r="6.6"/>
<circle cx="890.8" cy="328.3" r="6.6"/>
<circle cx="891.2" cy="331.7" r="6.6"/>
<circle cx="879.5" cy="336.2" r="6.6"/>
<circle cx="905.8" cy="324.2" r="6.6"/>
<circle cx="910.8" cy="332.9" r="6.6"/>
<circle cx="908.7" cy="339.6" r="6.6"/>
<circle cx="890.8" cy="351.7" r="6.6"/>
<circle cx="876.2" cy="356.7" r="6.6"/>
<circle cx="897.8" cy="360.4" r="6.6"/>
<circle cx="898.7" cy="361.7" r="6.6"/>
<circle cx="910.8" cy="360.8" r="6.6"/>
<circle cx="888.2" cy="368.8" r="6.6"/>
<circle cx="889.5" cy="370.4" r="6.6"/>
<circle cx="907.4" cy="369.6" r="6.6"/>
<circle cx="908.7" cy="370.8" r="6.6"/>
<circle cx="876.2" cy="377.5" r="6.6"/>
<circle cx="887" cy="382.5" r="6.6"/>
<circle cx="897.4" cy="381.2" r="6.6"/>
<circle cx="901.2" cy="383.3" r="6.6"/>
<circle cx="904.1" cy="380.8" r="6.6"/>
<circle cx="905.3" cy="386.2" r="6.6"/>
<circle cx="914.5" cy="384.6" r="6.6"/>
<circle cx="897" cy="387.9" r="6.6"/>
<circle cx="916" cy="351.2" r="6.6"/>
<circle cx="926.6" cy="352.5" r="6.6"/>
<circle cx="927.8" cy="353.3" r="6.6"/>
<circle cx="934.1" cy="362.1" r="6.6"/>
<circle cx="949.1" cy="346.5" r="6.6"/>
<circle cx="956.6" cy="353.8" r="6.6"/>
<circle cx="947.4" cy="358.3" r="6.6"/>
<circle cx="946.6" cy="361.2" r="6.6"/>
<circle cx="955.6" cy="331.4" r="6.6"/>
<circle cx="969.9" cy="320.8" r="6.6"/>
<circle cx="975.3" cy="335.8" r="6.6"/>
<circle cx="977.8" cy="341.8" r="6.6"/>
<circle cx="983.7" cy="341.2" r="6.6"/>
<circle cx="983.2" cy="326.2" r="6.6"/>
<circle cx="940.8" cy="373.3" r="6.6"/>
<circle cx="943.2" cy="374.6" r="6.6"/>
<circle cx="951.6" cy="373.3" r="6.6"/>
<circle cx="950.5" cy="387.1" r="6.6"/>
<circle cx="974.1" cy="375.4" r="6.6"/>
<circle cx="981.6" cy="370" r="6.6"/>
<circle cx="929.5" cy="391.7" r="6.6"/>
<circle cx="875.3" cy="389.2" r="6.6"/>
<circle cx="884.5" cy="395.4" r="6.6"/>
<circle cx="891.6" cy="393.8" r="6.6"/>
<circle cx="874.1" cy="247.9" r="6.6"/>
<circle cx="880.8" cy="249.6" r="6.6"/>
<circle cx="892.4" cy="240.4" r="6.6"/>
<circle cx="917.4" cy="244.2" r="6.6"/>
<circle cx="923.7" cy="252.1" r="6.6"/>
<circle cx="941.6" cy="244.6" r="6.6"/>
<circle cx="947.4" cy="243.8" r="6.6"/>
<circle cx="965.8" cy="247.9" r="6.6"/>
<circle cx="975.8" cy="249.6" r="6.6"/>
<circle cx="962.8" cy="256.2" r="6.6"/>
<circle cx="926.6" cy="266.7" r="6.6"/>
<circle cx="925.8" cy="274.2" r="6.6"/>
<circle cx="923.2" cy="275.4" r="6.6"/>
<circle cx="918.7" cy="285" r="6.6"/>
<circle cx="887" cy="267.1" r="6.6"/>
<circle cx="896.6" cy="270.8" r="6.6"/>
<circle cx="881.2" cy="278.8" r="6.6"/>
<circle cx="886.6" cy="277.9" r="6.6"/>
<circle cx="896.6" cy="277.9" r="6.6"/>
<circle cx="902.4" cy="287.5" r="6.6"/>
<circle cx="945.3" cy="273.3" r="6.6"/>
<circle cx="956" cy="270.8" r="6.6"/>
<circle cx="937.8" cy="278.3" r="6.6"/>
<circle cx="954.5" cy="281.7" r="6.6"/>
<circle cx="938.2" cy="288.8" r="6.6"/>
<circle cx="974.1" cy="273.3" r="6.6"/>
<circle cx="982.8" cy="265" r="6.6"/>
<circle cx="983.7" cy="266.2" r="6.6"/>
<circle cx="964.9" cy="292.5" r="6.6"/>
<circle cx="983.2" cy="299.2" r="6.6"/>
<circle cx="879.5" cy="296.7" r="6.6"/>
<circle cx="915.8" cy="306.2" r="6.6"/>
<circle cx="928" cy="312.1" r="6.6"/>
<circle cx="901.2" cy="315" r="6.6"/>
<circle cx="925.6" cy="172.3" r="6.6"/>
<circle cx="960.3" cy="164.8" r="6.6"/>
<circle cx="977.8" cy="171.1" r="6.6"/>
<circle cx="967.4" cy="182.1" r="6.6"/>
<circle cx="901.8" cy="196.2" r="6.6"/>
<circle cx="888.2" cy="202.9" r="6.6"/>
<circle cx="963.2" cy="203.3" r="6.6"/>
<circle cx="917.8" cy="218.3" r="6.6"/>
<circle cx="920.3" cy="233.8" r="6.6"/>
<circle cx="934.1" cy="232.3" r="6.6"/>
<circle cx="967.4" cy="230.7" r="6.6"/>
<circle cx="977.8" cy="238.3" r="6.6"/>
<circle cx="875.3" cy="235.4" r="6.6"/>
<circle cx="882.4" cy="234.2" r="6.6"/>
<circle cx="971.2" cy="139.7" r="6.6"/>
<circle cx="989.8" cy="350.3" r="6.6"/>
<circle cx="1012.8" cy="341.2" r="6.6"/>
<circle cx="1012.3" cy="350" r="6.6"/>
<circle cx="1042.7" cy="323.7" r="6.6"/>
<circle cx="1064.7" cy="346.3" r="6.6"/>
<circle cx="1094" cy="357.3" r="6.6"/>
<circle cx="1129.5" cy="323.3" r="6.6"/>
<circle cx="1032.3" cy="406.2" r="6.6"/>
<circle cx="1011.5" cy="246.2" r="6.6"/>
<circle cx="998.2" cy="253.8" r="6.6"/>
<circle cx="1006.1" cy="260.8" r="6.6"/>
<circle cx="1031.9" cy="241.2" r="6.6"/>
<circle cx="1033.6" cy="242.1" r="6.6"/>
<circle cx="1037.3" cy="243.3" r="6.6"/>
<circle cx="1059" cy="258.8" r="6.6"/>
<circle cx="992.8" cy="280" r="6.6"/>
<circle cx="1001.9" cy="283.3" r="6.6"/>
<circle cx="1014" cy="281.4" r="6.6"/>
<circle cx="1032.8" cy="274.2" r="6.6"/>
<circle cx="1054.2" cy="279.3" r="6.6"/>
<circle cx="1091.9" cy="253.8" r="6.6"/>
<circle cx="1076.3" cy="288.8" r="6.6"/>
<circle cx="1077.3" cy="299.6" r="6.6"/>
<circle cx="1075.2" cy="307.5" r="6.6"/>
<circle cx="1055.2" cy="301.5" r="6.6"/>
<circle cx="1000.2" cy="168.8" r="6.6"/>
<circle cx="1045.7" cy="180.4" r="6.6"/>
<circle cx="1090.2" cy="183.3" r="6.6"/>
<circle cx="1010.5" cy="188.8" r="6.6"/>
<circle cx="1013" cy="190.7" r="6.6"/>
<circle cx="996.1" cy="197.1" r="6.6"/>
<circle cx="993.6" cy="202.9" r="6.6"/>
<circle cx="1008.2" cy="199.6" r="6.6"/>
<circle cx="1013" cy="209.2" r="6.6"/>
<circle cx="1009.4" cy="217.5" r="6.6"/>
<circle cx="1008.6" cy="225" r="6.6"/>
<circle cx="1045.7" cy="204.8" r="6.6"/>
<circle cx="1088.6" cy="211.5" r="6.6"/>
<circle cx="1095.7" cy="202.5" r="6.6"/>
<circle cx="1031.5" cy="226.2" r="6.6"/>
<circle cx="1024.8" cy="231.7" r="6.6"/>
<circle cx="1043.2" cy="230.4" r="6.6"/>
<circle cx="1052.8" cy="233.3" r="6.6"/>
<circle cx="1059.8" cy="228.3" r="6.6"/>
<circle cx="992.3" cy="238.8" r="6.6"/>
<circle cx="993.7" cy="144.2" r="6.6"/>
<circle cx="999" cy="156.2" r="6.6"/>
<circle cx="1113.2" cy="180.7" r="6.6"/>
<circle cx="1136" cy="180.8" r="6.6"/>
<circle cx="1135.3" cy="159" r="6.6"/>
<circle cx="1196.2" cy="139" r="6.6"/>
<circle cx="1130.7" cy="211.5" r="6.6"/>
<circle cx="1115.2" cy="245.3" r="6.6"/>
<circle cx="1125.2" cy="265" r="6.6"/>
<circle cx="1167.3" cy="285.8" r="6.6"/>
<circle cx="1116.8" cy="306.2" r="6.6"/>
<circle cx="1270.3" cy="98.7" r="6.6"/>
<circle cx="1254.7" cy="115.3" r="6.6"/>
<circle cx="1269.7" cy="119" r="6.6"/>
<circle cx="1240.8" cy="135.7" r="6.6"/>
<circle cx="1273" cy="189" r="6.6"/>
</g>
<polygon points="145.0,728.3 173.2,713.7 201.4,699.1 229.6,684.5 257.8,669.9 286.0,655.3 314.2,640.7 342.4,626.0 370.6,611.4 398.7,596.8 426.9,582.1 455.1,567.4 483.3,552.7 511.5,538.0 539.7,523.2 567.9,508.4 596.1,493.6 624.3,478.7 652.5,463.6 680.7,448.5 708.9,433.3 737.1,417.9 765.3,402.4 793.5,386.8 821.6,371.1 849.8,355.3 878.0,339.4 906.2,323.5 934.4,307.5 962.6,291.4 990.8,275.4 1019.0,259.3 1047.2,243.2 1075.4,227.1 1103.6,210.9 1131.8,194.8 1160.0,178.7 1188.2,162.5 1216.4,146.3 1244.6,130.2 1272.8,114.0 1272.8,147.8 1244.6,162.4 1216.4,177.0 1188.2,191.6 1160.0,206.2 1131.8,220.8 1103.6,235.5 1075.4,250.1 1047.2,264.7 1019.0,279.4 990.8,294.1 962.6,308.8 934.4,323.5 906.2,338.3 878.0,353.1 849.8,368.0 821.6,383.0 793.5,398.0 765.3,413.2 737.1,428.4 708.9,443.9 680.7,459.4 652.5,475.0 624.3,490.8 596.1,506.6 567.9,522.6 539.7,538.5 511.5,554.5 483.3,570.6 455.1,586.6 426.9,602.7 398.7,618.8 370.6,635.0 342.4,651.1 314.2,667.2 286.0,683.4 257.8,699.5 229.6,715.7 201.4,731.9 173.2,748.1 145.0,764.2" fill="#000" fill-opacity="0.15"/>
<path d="M145.0 746.25L1272.75 130.9" stroke="#000" stroke-width="4.2" fill="none"/>
<path d="M88.5 62.0V877.13M87.17 875.8H1329.3" stroke="#bfbfbf" stroke-width="2.67" fill="none"/>
<text x="88.5" y="40.2" font-size="35.2" fill="#000">Predicted values of Y</text>
<g font-size="23.47" fill="#666" text-anchor="end">
<text x="75.3" y="802.8">0</text>
<text x="75.3" y="562.9">10</text>
<text x="75.3" y="323.1">20</text>
<text x="75.3" y="83.3">30</text>
</g>
<g font-size="23.47" fill="#666" text-anchor="middle">
<text x="369.9" y="906.3">0</text>
<text x="721.5" y="906.3">40</text>
<text x="1073.0" y="906.3">80</text>
</g>
<text x="706.8" y="940.2" font-size="31" fill="#333" text-anchor="middle">X1</text>
<text transform="translate(35.9 469.4) rotate(-90)" font-size="31" fill="#333" text-anchor="middle">Y</text>
</svg></body></html>
